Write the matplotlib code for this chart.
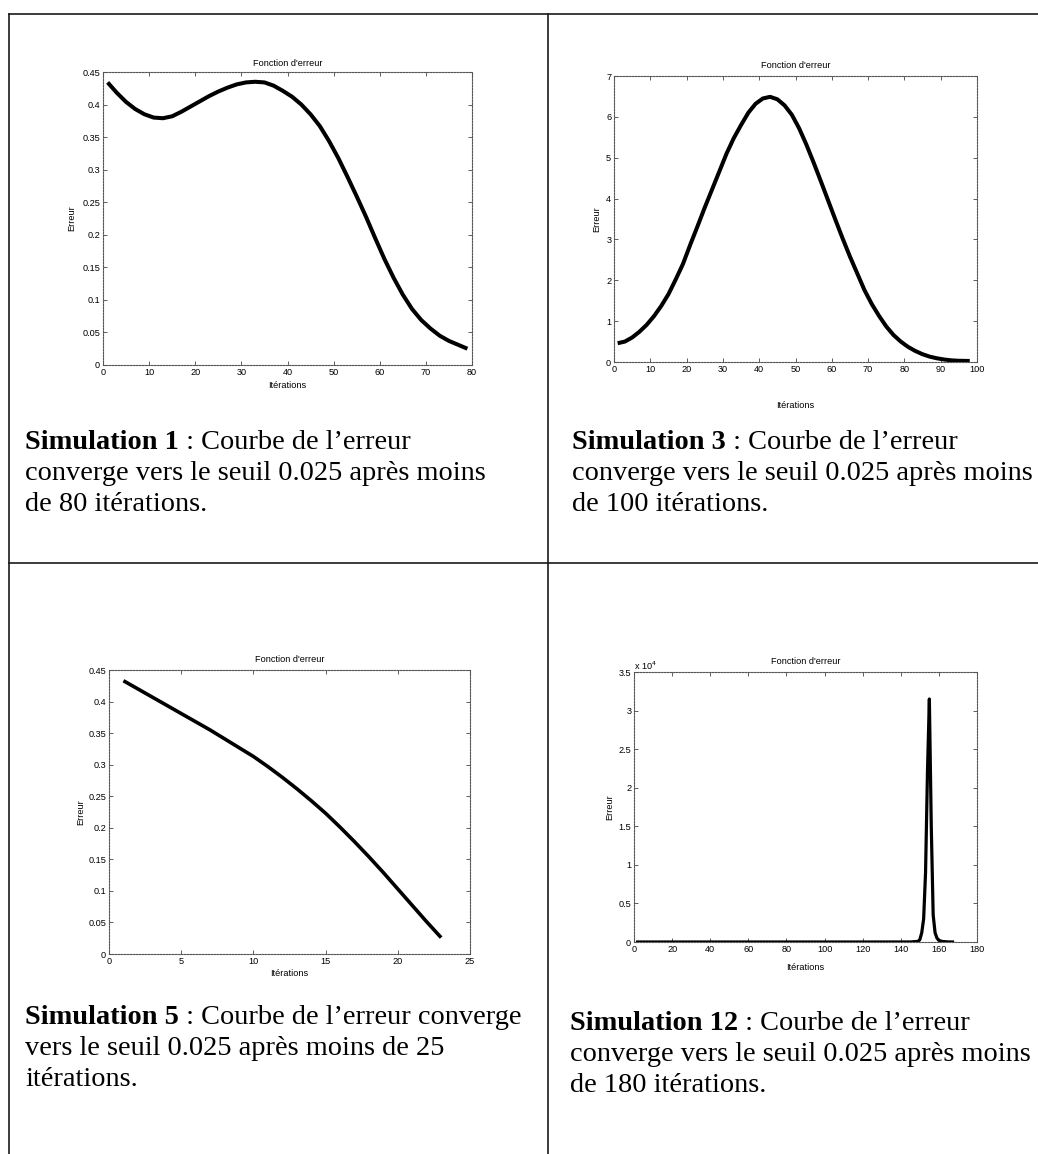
import matplotlib
matplotlib.use("Agg")
import matplotlib.pyplot as plt
from matplotlib.lines import Line2D
from matplotlib.ticker import FuncFormatter, MultipleLocator

# ---------------- data ----------------
it_sim1 = list(range(1, 80, 2))
err_sim1 = [0.434, 0.418, 0.404, 0.393, 0.385, 0.380, 0.379, 0.382, 0.389, 0.397,
            0.405, 0.413, 0.420, 0.426, 0.431, 0.434, 0.435, 0.434, 0.429, 0.421,
            0.412, 0.400, 0.385, 0.367, 0.344, 0.318, 0.289, 0.259, 0.228, 0.195,
            0.163, 0.134, 0.108, 0.086, 0.069, 0.056, 0.045, 0.037, 0.031, 0.025]

it_sim3 = list(range(1, 96, 2)) + [98]
err_sim3 = [0.46, 0.50, 0.60, 0.74, 0.91, 1.12, 1.37, 1.66, 2.02, 2.40,
            2.87, 3.32, 3.78, 4.22, 4.66, 5.10, 5.48, 5.80, 6.10, 6.32,
            6.45, 6.49, 6.43, 6.28, 6.05, 5.72, 5.32, 4.88, 4.42, 3.95,
            3.48, 3.02, 2.58, 2.17, 1.76, 1.42, 1.13, 0.87, 0.66, 0.50,
            0.37, 0.27, 0.19, 0.13, 0.09, 0.06, 0.04, 0.03, 0.025]

it_sim5 = list(range(1, 24))
err_sim5 = [0.433, 0.420, 0.407, 0.394, 0.381, 0.368, 0.355, 0.341, 0.327, 0.313,
            0.297, 0.280, 0.262, 0.243, 0.223, 0.201, 0.178, 0.154, 0.129, 0.103,
            0.077, 0.051, 0.026]

it_sim12 = [1, 25, 50, 75, 100, 125, 145, 149, 150, 151, 152, 153, 154, 155, 156,
            157, 158, 159, 160, 162, 165, 168]
err_sim12 = [0.43, 0.5, 0.5, 0.5, 0.5, 0.5, 5, 80, 300, 1200, 3000, 9000, 22000,
             31500, 15000, 3500, 1200, 500, 200, 60, 10, 0.025]

xlims = [80, 100, 25, 180]
ylims = [0.45, 7, 0.45, 35000]
ysteps = [0.05, 1, 0.05, 5000]
xsteps = [10, 10, 5, 20]

captions = [
    ("Simulation 1", " : Courbe de l\u2019erreur",
     ["converge vers le seuil 0.025 apr\u00e8s moins", "de 80 it\u00e9rations."]),
    ("Simulation 3", " : Courbe de l\u2019erreur",
     ["converge vers le seuil 0.025 apr\u00e8s moins", "de 100 it\u00e9rations."]),
    ("Simulation 5", " : Courbe de l\u2019erreur converge",
     ["vers le seuil 0.025 apr\u00e8s moins de 25", "it\u00e9rations."]),
    ("Simulation 12", " : Courbe de l\u2019erreur",
     ["converge vers le seuil 0.025 apr\u00e8s moins", "de 180 it\u00e9rations."]),
]

# ---------------- layout (pixels) ----------------
W, H = 1038, 1154
fig = plt.figure(figsize=(W / 100, H / 100), dpi=100)
fig.patch.set_facecolor("white")

# axes boxes: left, right, top, bottom
boxes = [(103, 472, 72, 365), (614, 977, 76, 362),
         (109, 470, 670, 954), (634, 977, 672, 942)]
title_y = [63, 65, 659, 662]
xlabel_y = [386, 406, 973, 967]
ylabel_x = [72, 597, 81, 610]
line_w = [2.9, 2.9, 2.6, 2.3]
caption_pos = [(25, 449), (572, 449), (25, 1024), (570, 1030)]
line_gap = 31

series = [(it_sim1, err_sim1), (it_sim3, err_sim3),
          (it_sim5, err_sim5), (it_sim12, err_sim12)]

small = dict(family="Liberation Sans", size=6.6)

for i, (x, y) in enumerate(series):
    l, r, t, b = boxes[i]
    ax = fig.add_axes([l / W, 1 - b / H, (r - l) / W, (b - t) / H])
    ax.plot(x, y, color="black", lw=line_w[i], solid_capstyle="butt",
            solid_joinstyle="round")
    ax.set_xlim(0, xlims[i])
    ax.set_ylim(0, ylims[i])
    ax.xaxis.set_major_locator(MultipleLocator(xsteps[i]))
    ax.yaxis.set_major_locator(MultipleLocator(ysteps[i]))
    if i == 3:
        ax.yaxis.set_major_formatter(FuncFormatter(lambda v, _: f"{v / 1e4:g}"))
        ax.text(0.0, 1.0, "x 10$^4$", transform=ax.transAxes, ha="left",
                va="bottom", fontsize=6.6, family="Liberation Sans")
    else:
        ax.yaxis.set_major_formatter(FuncFormatter(lambda v, _: f"{v:g}"))
    ax.xaxis.set_major_formatter(FuncFormatter(lambda v, _: f"{v:g}"))
    ax.tick_params(direction="in", top=True, right=True, length=3, width=0.6,
                   color="#444444", labelsize=6.6, pad=2)
    for lab in ax.get_xticklabels() + ax.get_yticklabels():
        lab.set_family("Liberation Sans")
    for sp in ax.spines.values():
        sp.set_linestyle((0, (1.5, 1.2)))
        sp.set_linewidth(0.8)
        sp.set_color("#555555")
    h = b - t
    wdt = r - l
    ax.text(0.5, 1 + (t - title_y[i]) / h, "Fonction d'erreur",
            transform=ax.transAxes, ha="center", va="center", **small)
    ax.set_xlabel("It\u00e9rations", va="center", **small)
    ax.xaxis.set_label_coords(0.5, -(xlabel_y[i] - b) / h)
    ax.set_ylabel("Erreur", va="center", **small)
    ax.yaxis.set_label_coords(-(l - ylabel_x[i]) / wdt, 0.5)

# ---------------- table rules ----------------
def hline(y, x0, x1):
    fig.add_artist(Line2D([x0 / W, x1 / W], [1 - y / H, 1 - y / H],
                          color="#1a1a1a", lw=1.2))

def vline(x, y0, y1):
    fig.add_artist(Line2D([x / W, x / W], [1 - y0 / H, 1 - y1 / H],
                          color="#1a1a1a", lw=1.2))

hline(14, 9, W)
hline(563, 9, W)
vline(9, 14, H)
vline(548, 14, H)

# ---------------- captions ----------------
renderer = fig.canvas.get_renderer()
cap_font = "Liberation Serif"
cap_size = 20.4
for (bold, rest, more), (cx, cy) in zip(captions, caption_pos):
    tb = fig.text(cx / W, 1 - cy / H, bold, family=cap_font, size=cap_size,
                  weight="bold", ha="left", va="baseline")
    bb = tb.get_window_extent(renderer)
    fig.text(bb.x1 / W, 1 - cy / H, rest, family=cap_font, size=cap_size,
             ha="left", va="baseline")
    for k, line in enumerate(more, start=1):
        fig.text(cx / W, 1 - (cy + k * line_gap) / H, line, family=cap_font,
                 size=cap_size, ha="left", va="baseline")

fig.savefig("out.png", dpi=100, facecolor="white")
